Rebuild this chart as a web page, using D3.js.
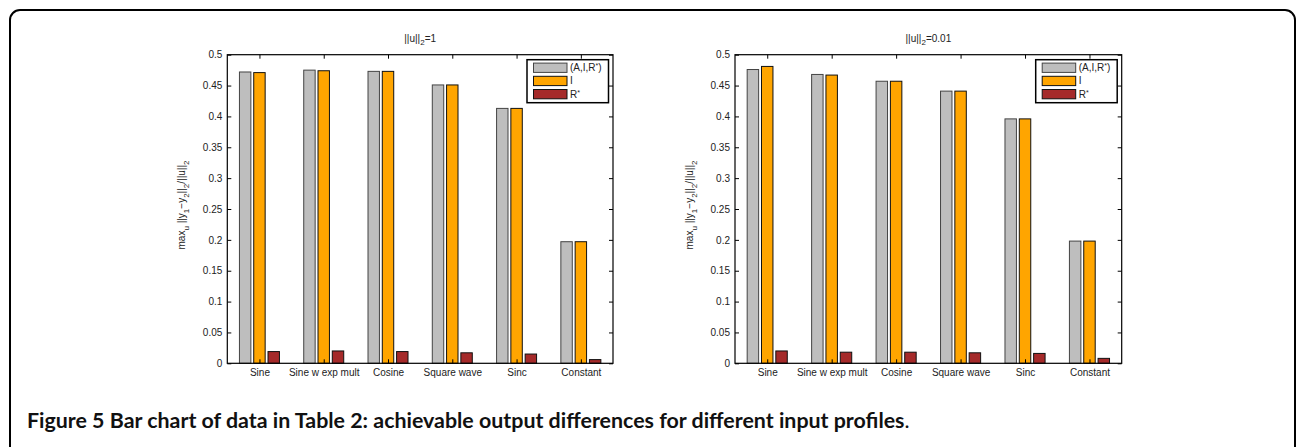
<!DOCTYPE html>
<html>
<head>
<meta charset="utf-8">
<script src="https://cdn.jsdelivr.net/npm/d3@7"></script>
<style>
  html, body { margin: 0; padding: 0; background: #fff; }
  svg { display: block; }
</style>
</head>
<body>
<svg id="chart" width="1296" height="447"></svg>
<script>
// ---------- data ----------
const categories = ["Sine", "Sine w exp mult", "Cosine", "Square wave", "Sinc", "Constant"];
const seriesNames = ["(A,I,R*)", "I", "R*"];
const yTicks = [0, 0.05, 0.1, 0.15, 0.2, 0.25, 0.3, 0.35, 0.4, 0.45, 0.5];

// left panel: ||u||_2 = 1
const leftAIR = [0.472, 0.475, 0.473, 0.451, 0.413, 0.197];
const leftI   = [0.471, 0.474, 0.473, 0.451, 0.413, 0.197];
const leftR   = [0.019, 0.020, 0.019, 0.017, 0.015, 0.006];

// right panel: ||u||_2 = 0.01
const rightAIR = [0.476, 0.468, 0.457, 0.441, 0.396, 0.198];
const rightI   = [0.481, 0.467, 0.457, 0.441, 0.396, 0.198];
const rightR   = [0.020, 0.018, 0.018, 0.017, 0.016, 0.008];

const titleLeft = ["||u||", "2", "=1"];
const titleRight = ["||u||", "2", "=0.01"];

// ---------- styles ----------
const colors = ["#bebebe", "#ffa500", "#a52a2a"];
const FONT = "'Liberation Sans', Arial, Helvetica, sans-serif";
const TXT = "#222";

const svg = d3.select("#chart");

// outer rounded frame
svg.append("rect")
  .attr("x", 10).attr("y", 10)
  .attr("width", 1285).attr("height", 520)
  .attr("rx", 10).attr("ry", 10)
  .attr("fill", "none").attr("stroke", "#000").attr("stroke-width", 2);

function drawPanel(left, right, top, bottom, air, inv, rstar, title) {
  const g = svg.append("g");
  const x = d3.scaleLinear().domain([0.5, categories.length + 0.5]).range([left, right]);
  const y = d3.scaleLinear().domain([0, 0.5]).range([bottom, top]);
  const series = [air, inv, rstar];
  const step = x(2) - x(1);
  const off = 2 / 9;          // MATLAB grouped bar offset (group width 2/3, 3 bars)
  const bw = 0.8 * off;

  // bars
  series.forEach((vals, s) => {
    g.append("g").selectAll("rect")
      .data(vals)
      .join("rect")
      .attr("x", (d, i) => x(i + 1 + (s - 1) * off - bw / 2))
      .attr("width", x(1 + bw) - x(1))
      .attr("y", d => y(d))
      .attr("height", d => y(0) - y(d))
      .attr("fill", colors[s])
      .attr("stroke", s === 0 ? "#444" : "#111")
      .attr("stroke-width", 1);
  });

  const fmt = d => String(+d.toFixed(2));
  const tickVals = d3.range(1, categories.length + 1);

  // axes
  const ax = g.append("g").attr("transform", `translate(${left},0)`)
    .call(d3.axisLeft(y).tickValues(yTicks).tickSize(-4).tickPadding(5).tickFormat(fmt));
  const axR = g.append("g").attr("transform", `translate(${right},0)`)
    .call(d3.axisRight(y).tickValues(yTicks).tickSize(-4).tickFormat(""));
  const axB = g.append("g").attr("transform", `translate(0,${bottom})`)
    .call(d3.axisBottom(x).tickValues(tickVals).tickSize(-4).tickPadding(6)
      .tickFormat(d => categories[d - 1]));
  const axT = g.append("g").attr("transform", `translate(0,${top})`)
    .call(d3.axisTop(x).tickValues(tickVals).tickSize(-4).tickFormat(""));
  [ax, axR, axB, axT].forEach(a => {
    a.select(".domain").remove();
    a.selectAll("line").attr("stroke", "#000");
    a.selectAll("text").attr("font-family", FONT).attr("font-size", 10).attr("fill", TXT);
  });

  // box
  g.append("rect").attr("x", left).attr("y", top)
    .attr("width", right - left).attr("height", bottom - top)
    .attr("fill", "none").attr("stroke", "#000").attr("stroke-width", 1.2);

  // title
  const t = g.append("text").attr("x", (left + right) / 2).attr("y", top - 13)
    .attr("text-anchor", "middle").attr("font-family", FONT).attr("font-size", 10).attr("fill", TXT);
  t.append("tspan").text(title[0]);
  t.append("tspan").attr("dy", 3.5).attr("font-size", 8).text(title[1]);
  t.append("tspan").attr("dy", -3.5).text(title[2]);

  // y label
  const yl = g.append("text")
    .attr("transform", `translate(${left - 42},${(top + bottom) / 2 - 4}) rotate(-90)`)
    .attr("text-anchor", "middle").attr("font-family", FONT).attr("font-size", 10).attr("fill", TXT);
  const parts = [["max", 0], ["u", 1], [" ||y", -1], ["1", 1], ["\u2212y", -1], ["2", 1], ["||", -1], ["2", 1], ["/||u||", -1], ["2", 1]];
  parts.forEach(([s, sub]) => {
    const ts = yl.append("tspan").text(s);
    if (sub === 1) ts.attr("dy", 3.5).attr("font-size", 8);
    else if (sub === -1) ts.attr("dy", -3.5);
  });

  // legend
  const lw = 81.5, lh = 43;
  const lx = right - 4.5 - lw, ly = top + 5;
  const lg = g.append("g").attr("transform", `translate(${lx},${ly})`);
  lg.append("rect").attr("width", lw).attr("height", lh)
    .attr("fill", "#fff").attr("stroke", "#000").attr("stroke-width", 1.5);
  seriesNames.forEach((name, i) => {
    const cy = 8 + i * 13.2;
    lg.append("rect").attr("x", 6.5).attr("y", cy - 4.6).attr("width", 33.5).attr("height", 9.3)
      .attr("fill", colors[i]).attr("stroke", i === 0 ? "#444" : "#111").attr("stroke-width", 1);
    const tx = lg.append("text").attr("x", 43).attr("y", cy + 3.6)
      .attr("font-family", FONT).attr("font-size", 10).attr("fill", TXT);
    const star = name.indexOf("*");
    if (star >= 0) {
      tx.append("tspan").text(name.slice(0, star));
      tx.append("tspan").attr("dy", -3).attr("font-size", 7).text("*");
      if (star < name.length - 1) tx.append("tspan").attr("dy", 3).text(name.slice(star + 1));
    } else {
      tx.text(name);
    }
  });
}

drawPanel(227.3, 613, 54.7, 363.3, leftAIR, leftI, leftR, titleLeft);
drawPanel(735, 1121.7, 54.7, 363.3, rightAIR, rightI, rightR, titleRight);

// caption
const cap = svg.append("text").attr("x", 27).attr("y", 428)
  .attr("font-family", "Lato, 'Open Sans', sans-serif").attr("font-size", 18).attr("fill", "#111");
cap.append("tspan").attr("font-weight", 700).text("Figure 5");
cap.append("tspan").attr("font-weight", 700).text(" Bar chart of data in Table 2: achievable output differences for different input profiles");
cap.append("tspan").attr("font-weight", 400).text(".");
const targetW = 883;
const w = cap.node().getComputedTextLength();
cap.attr("font-size", 18 * targetW / w);
</script>
</body>
</html>
